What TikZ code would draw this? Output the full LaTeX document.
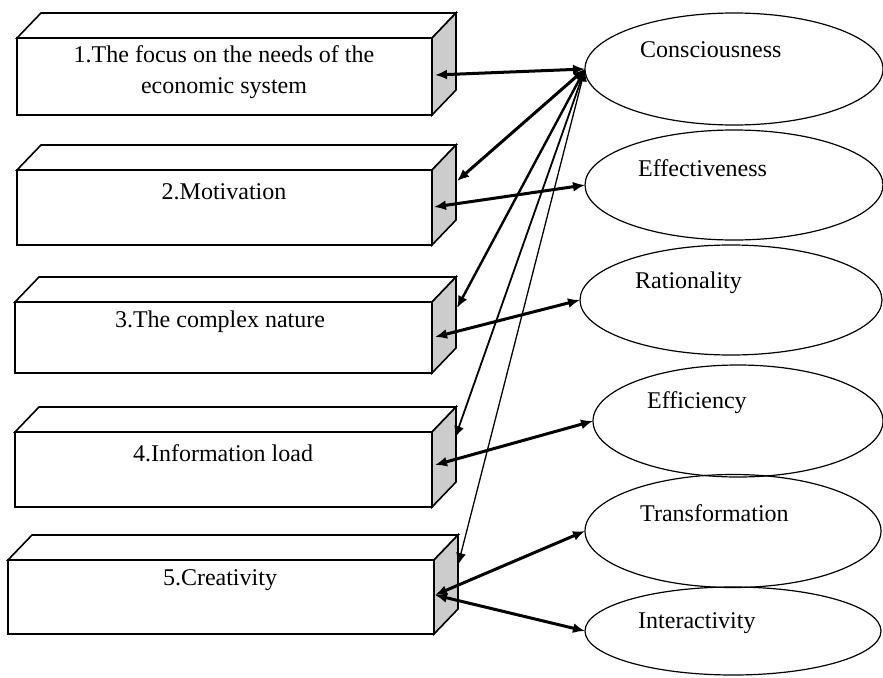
\documentclass[tikz,border=0pt]{standalone}
\usepackage{fontspec}
\setmainfont{Liberation Serif}
\usetikzlibrary{arrows.meta,calc,shapes.geometric}
\definecolor{sidegray}{RGB}{204,204,204}
\newcommand\drawcubebox[5]{%
  \node[frontbox,minimum width=#4,minimum height=#5] (#1) at (#2,#3) {};
  \draw[boxline,fill=white] (#1.north west) -- ++(24,-25) -- ($(#1.north east)+(24,-25)$) -- (#1.north east) -- cycle;
  \draw[boxline,fill=sidegray] (#1.north east) -- ++(24,-25) -- ($(#1.south east)+(24,-25)$) -- (#1.south east) -- cycle;
}
\begin{document}
\begin{tikzpicture}[x=1pt,y=-1pt,
  frontbox/.style={draw,line width=1.6pt,fill=white,rectangle,anchor=north west,inner sep=0pt,outer sep=0pt},
  boxline/.style={line width=1.6pt,line join=miter},
  oval/.style={draw,ellipse,line width=1.2pt,inner sep=0pt,outer sep=0pt},
  txt/.style={font=\fontsize{24}{31}\selectfont,inner sep=0pt,align=center},
  etxt/.style={font=\fontsize{24}{31}\selectfont,inner sep=0pt,anchor=west},
  link/.style={{Latex[length=12pt,width=10pt]}-{Latex[length=12pt,width=10pt]},line width=#1},
  link/.default=3pt]
\useasboundingbox (0,0) rectangle (883,677);
\fill[white] (0,0) rectangle (883,677);

% boxes
\drawcubebox{b1}{17}{38}{415pt}{77pt}
\drawcubebox{b2}{17}{170}{415pt}{75pt}
\drawcubebox{b3}{15}{302}{417pt}{71pt}
\drawcubebox{b4}{15}{432}{417pt}{75pt}
\drawcubebox{b5}{8}{560}{426pt}{74pt}

\node[txt] (t1) at (224,72) {1.The focus on the needs of the\\economic system};
\node[txt] (t2) at (224,192) {2.Motivation};
\node[txt] (t3) at (220,322) {3.The complex nature};
\node[txt] (t4) at (223,453) {4.Information load};
\node[txt] (t5) at (220,580) {5.Creativity};

% ellipses
\node[oval,minimum width=298pt,minimum height=112pt] (e1) at (734,69) {};
\node[oval,minimum width=298pt,minimum height=110pt] (e2) at (734,185) {};
\node[oval,minimum width=302pt,minimum height=110pt] (e3) at (731,300) {};
\node[oval,minimum width=290pt,minimum height=112pt] (e4) at (738,421) {};
\node[oval,minimum width=296pt,minimum height=113pt] (e5) at (733,531) {};
\node[oval,minimum width=296pt,minimum height=88pt] (e6) at (733,631) {};

\node[etxt] (l1) at (640,50) {Consciousness};
\node[etxt] (l2) at (638,168) {Effectiveness};
\node[etxt] (l3) at (635,283) {Rationality};
\node[etxt] (l4) at (647,403) {Efficiency};
\node[etxt] (l5) at (640,513) {Transformation};
\node[etxt] (l6) at (638,623) {Interactivity};

% arrow end points on the box sides
\coordinate (s1) at (435,75);
\coordinate (s2a) at (457,181);
\coordinate (s2b) at (434,207);
\coordinate (s3a) at (457,308);
\coordinate (s3b) at (435,337);
\coordinate (s4a) at (455,438);
\coordinate (s4b) at (435,465);
\coordinate (s5a) at (458,565);
\coordinate (s5b) at (435,595);

% connectors from Consciousness
\draw[link=3pt] (e1.west) -- (s1);
\draw[link=3pt] (e1.west) -- (s2a);
\draw[link=2.4pt] (e1.west) -- (s3a);
\draw[link=1.8pt] (e1.west) -- (s4a);
\draw[link=1.3pt] (e1.west) -- (s5a);

% other connectors
\draw[link=3pt] (s2b) -- (e2.west);
\draw[link=3pt] (s3b) -- (e3.west);
\draw[link=3pt] (s4b) -- (e4.west);
\draw[link=3pt] (s5b) -- (e5.west);
\draw[link=3pt] (s5b) -- (e6.west);
\end{tikzpicture}
\end{document}
